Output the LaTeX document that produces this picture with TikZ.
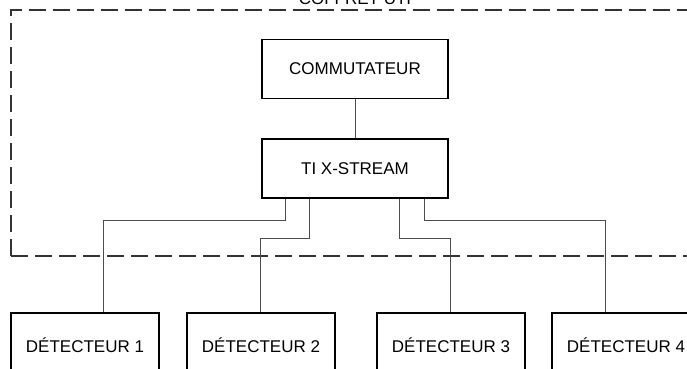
\documentclass[tikz,border=0pt]{standalone}
\usepackage{fontspec}
\setmainfont{Liberation Sans}
\begin{document}
\begin{tikzpicture}[x=1pt,y=-1pt,
  box/.style={draw=black,line width=1.3pt,minimum width=186pt,minimum height=59pt,inner sep=0pt,font=\fontsize{17}{20}\selectfont},
  det/.style={draw=black,line width=1.3pt,minimum width=148pt,minimum height=64pt,inner sep=0pt,font=\fontsize{17}{20}\selectfont},
  wire/.style={draw=black!70,line width=1pt},
  frame/.style={draw=black!80,line width=2pt,dash pattern=on 17pt off 7pt}]
\useasboundingbox (0,0) rectangle (687,368);
\fill[white] (0,0) rectangle (687,368);
\draw[frame] (11,256) -- (11,10) -- (720,10);
\draw[frame] (11,256) -- (720,256);
\node[anchor=base,font=\fontsize{17}{20}\selectfont] (lbl) at (355,4) {COFFRET UTI};
\node[box] (com) at (355,69) {COMMUTATEUR};
\node[box] (ti) at (355,168.5) {TI X-STREAM};
\node[det] (d1) at (85,345) {DÉTECTEUR 1};
\node[det] (d2) at (261,345) {DÉTECTEUR 2};
\node[det] (d3) at (451,345) {DÉTECTEUR 3};
\node[det] (d4) at (626,345) {DÉTECTEUR 4};
\draw[wire] (com) -- (ti);
\draw[wire] ([xshift=24pt]ti.south west) -- ++(0,22) -| ([xshift=93pt]d1.north west);
\draw[wire] ([xshift=48pt]ti.south west) -- ++(0,40) -| ([xshift=74pt]d2.north west);
\draw[wire] ([xshift=-49pt]ti.south east) -- ++(0,40) -| ([xshift=74pt]d3.north west);
\draw[wire] ([xshift=-24pt]ti.south east) -- ++(0,22) -| ([xshift=54pt]d4.north west);
\end{tikzpicture}
\end{document}
